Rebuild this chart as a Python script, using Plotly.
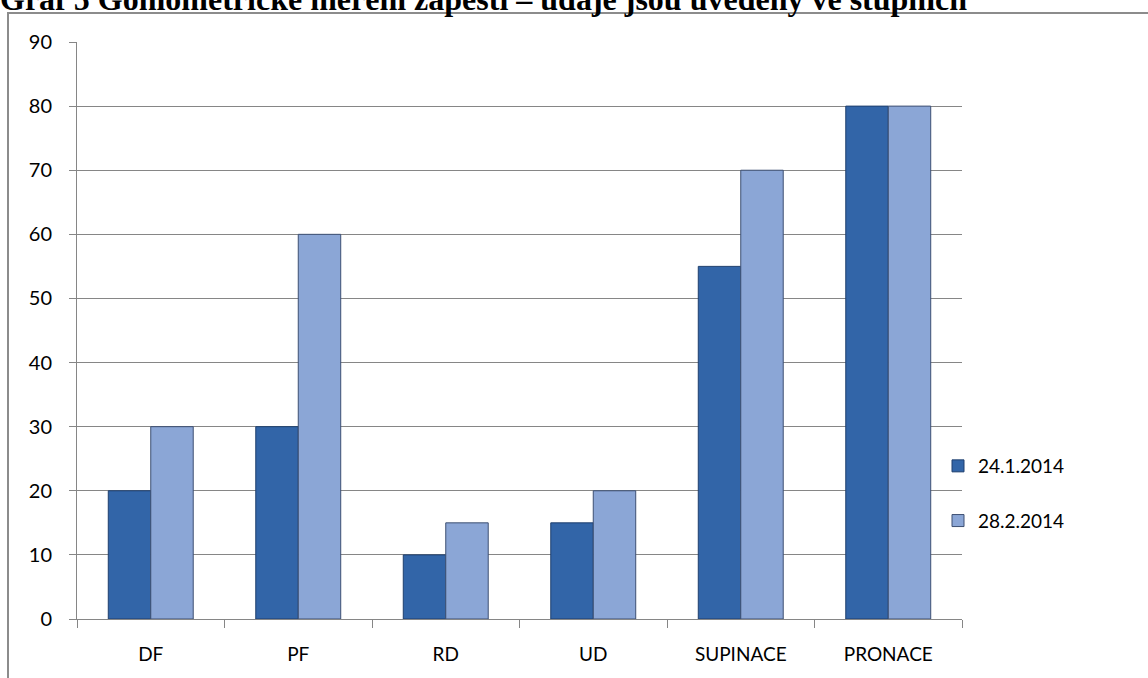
import plotly.graph_objects as go

categories = ["DF", "PF", "RD", "UD", "SUPINACE", "PRONACE"]
series_names = ["24.1.2014", "28.2.2014"]
values_first = [20, 30, 10, 15, 55, 80]
values_second = [30, 60, 15, 20, 70, 80]
y_ticks = [0, 10, 20, 30, 40, 50, 60, 70, 80, 90]
title_text = "Graf 5 Goniometrické měření zápěstí – údaje jsou uvedeny ve stupních"

W, H = 1148, 678
L, R, T, B = 77, 186, 42, 59
pw = W - L - R
ph = H - T - B

def px_x(p):
    return (p - L) / pw

def px_y(p):
    return (H - B - p) / ph

font_family = "Lato, 'Open Sans', sans-serif"

fig = go.Figure()
fig.add_trace(go.Bar(
    x=categories, y=values_first, name=series_names[0],
    marker=dict(color="#3265A8", line=dict(color="#1E3F6E", width=1)),
    legendgroup="a",
))
fig.add_trace(go.Bar(
    x=categories, y=values_second, name=series_names[1],
    marker=dict(color="#8BA6D6", line=dict(color="#3D4F72", width=1)),
    legendgroup="b",
))

fig.update_layout(
    width=W, height=H,
    margin=dict(l=L, r=R, t=T, b=B, pad=0),
    paper_bgcolor="white", plot_bgcolor="white",
    barmode="group", bargap=0.424, bargroupgap=0,
    font=dict(family=font_family, size=19, color="black"),
    showlegend=True,
    legend=dict(
        x=px_x(938), xanchor="left", y=px_y(447), yanchor="top",
        traceorder="grouped", tracegroupgap=27, itemwidth=30,
        font=dict(family=font_family, size=19, color="black"),
        bgcolor="rgba(0,0,0,0)",
    ),
    xaxis=dict(
        type="category", showgrid=False, showline=True, linecolor="#868686", linewidth=1,
        ticks="outside", ticklen=8, tickcolor="#868686", tickson="boundaries",
        tickfont=dict(size=19), ticklabelstandoff=18,
    ),
    yaxis=dict(
        range=[0, 90], tickvals=y_ticks, showgrid=True, gridcolor="#868686", gridwidth=1,
        showline=True, linecolor="#868686", linewidth=1, zeroline=False,
        ticks="outside", ticklen=7, tickcolor="#868686",
        tickfont=dict(size=20), ticklabelstandoff=13,
    ),
    shapes=[dict(
        type="rect", xref="paper", yref="paper",
        x0=px_x(8), x1=px_x(W + 20), y0=px_y(H + 20), y1=px_y(13),
        line=dict(color="#8C8C8C", width=2), fillcolor="rgba(0,0,0,0)", layer="below",
    )],
    annotations=[dict(
        text="<b>" + title_text + "</b>", xref="paper", yref="paper",
        x=px_x(-2), xanchor="left", y=px_y(19), yanchor="bottom", showarrow=False,
        font=dict(family="'Liberation Serif', 'Times New Roman', serif", size=32, color="black"),
    )],
)

fig.write_html("out.html")
